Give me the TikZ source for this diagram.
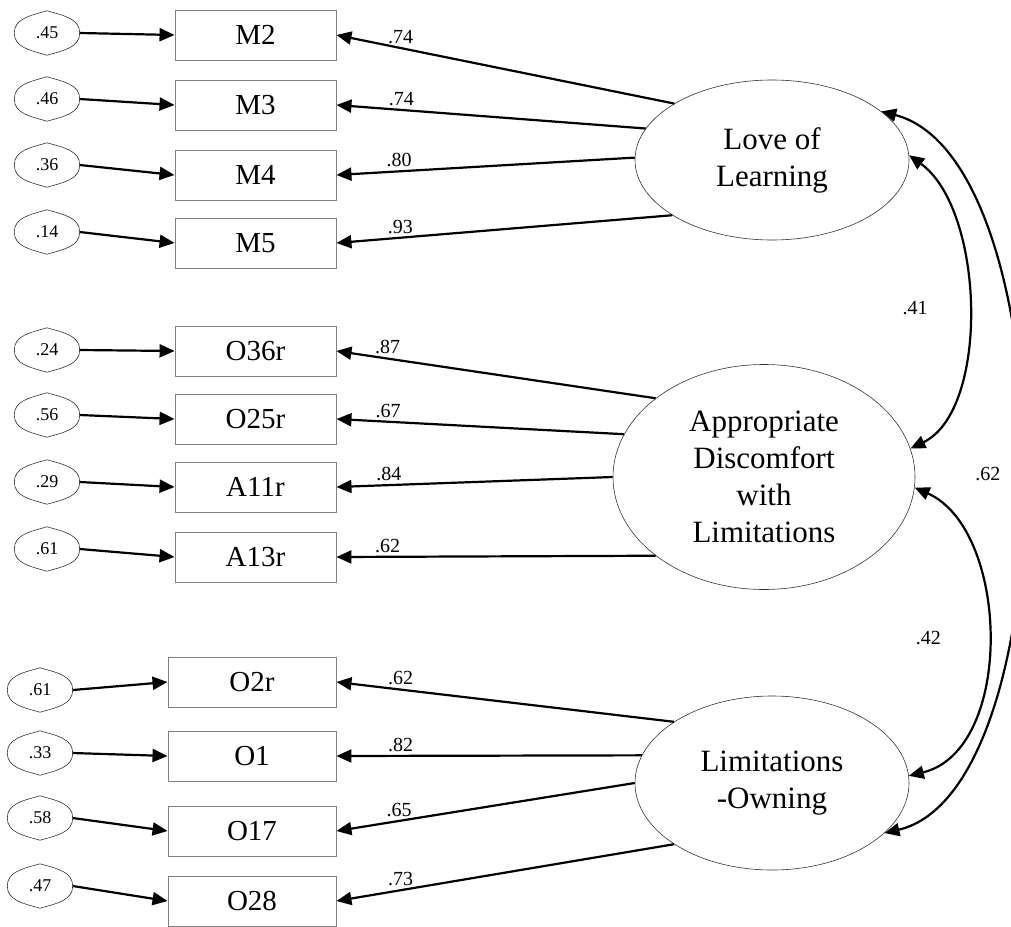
\documentclass[tikz,border=0pt]{standalone}
\usepackage{fontspec}
\setmainfont{Liberation Serif}
\usepackage{tikz}
\usetikzlibrary{arrows.meta, shapes.geometric}
\tikzset{
  obs/.style={draw=gray, line width=0.9pt, minimum width=161pt, minimum height=50pt,
    inner sep=0pt, font=\fontsize{29}{29}\selectfont},
  lat/.style={ellipse, draw=gray!40!black, line width=0.6pt, inner sep=0pt, align=center,
    font=\fontsize{31}{37}\selectfont},
  err/.style={ellipse, minimum width=65pt, minimum height=44pt, inner sep=0pt,
    font=\fontsize{18}{18}\selectfont},
  lemon/.style={draw=gray!40!black, line width=0.6pt},
  load/.style={->, line width=2.2pt},
  cov/.style={<->, line width=2.2pt},
  wt/.style={font=\fontsize{20}{20}\selectfont}
}

\begin{document}
\begin{tikzpicture}[x=1pt, y=-1pt, >={Triangle[length=15pt,width=13pt]}]
    \useasboundingbox (0,0) rectangle (1011,926);
    % indicators
    \node[obs] (m2) at (255.5,35) {M2};
    \node[obs] (m3) at (255.5,105) {M3};
    \node[obs] (m4) at (255.5,175) {M4};
    \node[obs] (m5) at (255.5,243) {M5};
    \node[obs] (o36r) at (255.5,351) {O36r};
    \node[obs] (o25r) at (255.5,419) {O25r};
    \node[obs] (a11r) at (255.5,487) {A11r};
    \node[obs] (a13r) at (255.5,557) {A13r};
    \node[obs, minimum width=168pt] (o2r) at (252,682) {O2r};
    \node[obs, minimum width=168pt] (o1) at (252,756) {O1};
    \node[obs, minimum width=168pt] (o17) at (252,831) {O17};
    \node[obs, minimum width=168pt] (o28) at (252,901) {O28};
    % error terms
    \node[err] (e1) at (47,33) {.45};
    \node[err] (e2) at (47,99) {.46};
    \node[err] (e3) at (47,165) {.36};
    \node[err] (e4) at (47,232) {.14};
    \node[err] (e5) at (47,350) {.24};
    \node[err] (e6) at (47,415) {.56};
    \node[err] (e7) at (47,482) {.29};
    \node[err] (e8) at (47,549) {.61};
    \node[err] (e9) at (40,690) {.61};
    \node[err] (e10) at (40,753) {.33};
    \node[err] (e11) at (40,818) {.58};
    \node[err] (e12) at (40,886) {.47};
    \foreach \i in {1,...,12}
        \draw[lemon] (e\i.west) .. controls +(0,-14) and +(-18,5) .. (e\i.north)
            .. controls +(18,5) and +(0,-14) .. (e\i.east)
            .. controls +(0,14) and +(18,-5) .. (e\i.south)
            .. controls +(-18,-5) and +(0,14) .. (e\i.west);
    \foreach \e/\b in {e1/m2, e2/m3, e3/m4, e4/m5, e5/o36r, e6/o25r, e7/a11r, e8/a13r,
                       e9/o2r, e10/o1, e11/o17, e12/o28}
        \draw[load] (\e.east) -- (\b.west);
    % factors
    \node[lat, minimum width=274pt, minimum height=160pt] (ll) at (772,160) {Love of\\Learning};
    \node[lat, minimum width=302pt, minimum height=225pt] (adl) at (764,477) {Appropriate\\Discomfort\\with\\Limitations};
    \node[lat, minimum width=274pt, minimum height=174pt] (lo) at (772,783) {Limitations\\-Owning};
    % loadings
    \draw[load] (ll.150) -- (m2.east) node[wt, pos=0.81, above] {.74};
    \draw[load] (ll.166) -- (m3.east) node[wt, pos=0.79, above] {.74};
    \draw[load] (ll.179) -- (m4.east) node[wt, pos=0.79, above] {.80};
    \draw[load] (ll.209) -- (m5.east) node[wt, pos=0.81, above] {.93};
    \draw[load] (adl.144) -- (o36r.east) node[wt, pos=0.84, above] {.87};
    \draw[load] (adl.163) -- (o25r.east) node[wt, pos=0.82, above] {.67};
    \draw[load] (adl.180) -- (a11r.east) node[wt, pos=0.81, above] {.84};
    \draw[load] (adl.216) -- (a13r.east) node[wt, pos=0.84, above] {.62};
    \draw[load] (lo.148) -- (o2r.east) node[wt, pos=0.81, above] {.62};
    \draw[load] (lo.168) -- (o1.east) node[wt, pos=0.79, above] {.82};
    \draw[load] (lo.180) -- (o17.east) node[wt, pos=0.79, above] {.65};
    \draw[load] (lo.212) -- (o28.east) node[wt, pos=0.81, above] {.73};
    % correlations
    \draw[cov] (ll.2) .. controls (985,210) and (990,410) .. (adl.11)
        node[wt, pos=0.5, left=36pt] {.41};
    \draw[cov] (adl.-4) .. controls (1010,530) and (1015,750) .. (lo.3)
        node[wt, pos=0.5, left=42pt] {.42};
    \draw[cov] (ll.24) .. controls (1068,160) and (1068,790) .. (lo.-24)
        node[wt, pos=0.5, left=17pt] {.62};
\end{tikzpicture}
\end{document}
